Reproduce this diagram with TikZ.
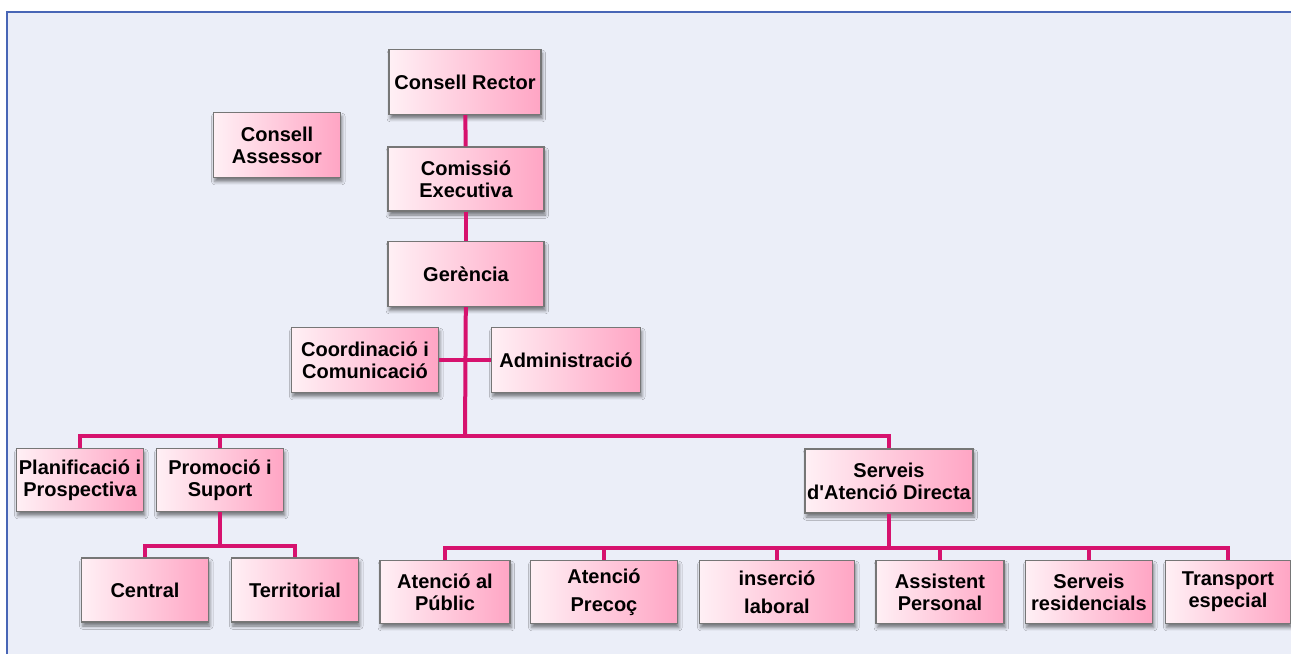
\documentclass[tikz,border=0pt]{standalone}
\usepackage{fontspec}
\setmainfont{Liberation Sans}
\usetikzlibrary{shadows.blur}
\definecolor{linkpink}{RGB}{214,18,110}
\definecolor{boxlight}{RGB}{255,240,245}
\definecolor{boxdark}{RGB}{255,165,196}
\definecolor{paneblue}{RGB}{235,238,248}
\definecolor{frameblue}{RGB}{72,102,182}
\definecolor{boxedge}{RGB}{118,118,118}
\tikzset{
  orgbox/.style={draw=boxedge, line width=0.9pt, left color=boxlight, right color=boxdark,
    align=center, inner sep=1pt, minimum height=48pt,
    font=\bfseries\fontsize{15}{16.5}\selectfont,
    blur shadow={shadow xshift=1pt, shadow yshift=-3pt, shadow blur radius=2.5pt, shadow opacity=50}},
  link/.style={draw=linkpink, line width=3pt},
}
\begin{document}
\begin{tikzpicture}[x=0.75pt,y=0.75pt,yscale=-1,xscale=1]
\useasboundingbox (0,0) rectangle (1291,654);

%Shape: Rectangle [id:pane]
\fill [white] (0,0) rectangle (1291,654);
\fill [paneblue] (7,12) rectangle (1291,654);
\draw [frameblue, line width=1.5pt] (7,654) -- (7,12) -- (1291,12);

% Text Node
\node [orgbox, minimum width=114pt, minimum height=48.75pt] (rector) at (465,82) {Consell Rector};
% Text Node
\node [orgbox, minimum width=95.25pt, minimum height=48.75pt] (assessor) at (277,145) {Consell\\Assessor};
% Text Node
\node [orgbox, minimum width=117pt] (comissio) at (466,179) {Comissió\\Executiva};
% Text Node
\node [orgbox, minimum width=117pt, minimum height=48.75pt] (gerencia) at (466,274) {Gerència};
% Text Node
\node [orgbox, minimum width=110.25pt, minimum height=48.75pt] (coord) at (365,360) {Coordinació i\\Comunicació};
% Text Node
\node [orgbox, minimum width=111.75pt, minimum height=48.75pt] (admin) at (566,360) {Administració};
% Text Node
\node [orgbox, minimum width=95.25pt, minimum height=47.25pt] (planif) at (80,480) {Planificació i\\Prospectiva};
% Text Node
\node [orgbox, minimum width=95.25pt, minimum height=47.25pt] (promocio) at (220,480) {Promoció i\\Suport};
% Text Node
\node [orgbox, minimum width=126pt] (serveis) at (889,481) {Serveis\\d\textquotesingle Atenció Directa};
% Text Node
\node [orgbox, minimum width=95.25pt] (central) at (145,590) {Central};
% Text Node
\node [orgbox, minimum width=95.25pt] (territorial) at (295,590) {Territorial};
% Text Node
\node [orgbox, minimum width=97.5pt, minimum height=47.25pt] (public) at (445,592) {Atenció al\\Públic};
% Text Node
\node [orgbox, minimum width=110.25pt, minimum height=47.25pt] (precoc) at (604,592) {Atenció\\[4.5pt]Precoç};
% Text Node
\node [orgbox, minimum width=116.25pt, minimum height=47.25pt] (insercio) at (777,592) {inserció\\[4.5pt]laboral};
% Text Node
\node [orgbox, minimum width=96pt, minimum height=47.25pt] (assistent) at (940,592) {Assistent\\Personal};
% Text Node
\node [orgbox, minimum width=95.25pt, minimum height=47.25pt] (residencials) at (1089,592) {Serveis\\residencials};
% Text Node
\node [orgbox, minimum width=93.75pt, minimum height=47.25pt] (transport) at (1228,592) {Transport\\especial};

%Straight Lines [id:trunk]
\coordinate (busmain) at (465,436);
\coordinate (buspromo) at (220,546);
\coordinate (busserv) at (889,548);
\draw [link] (rector) -- (comissio);
\draw [link] (comissio) -- (gerencia);
\draw [link] (gerencia) -- (busmain);
\draw [link] (coord) -- (admin);
%Straight Lines [id:level2]
\draw [link] (planif.north) |- (busmain) -| (serveis.north);
\draw [link] (promocio.north) -- (promocio.north |- busmain);
%Straight Lines [id:promo]
\draw [link] (promocio) -- (buspromo);
\draw [link] (central.north) |- (buspromo) -| (territorial.north);
%Straight Lines [id:serv]
\draw [link] (serveis) -- (busserv);
\draw [link] (public.north) |- (busserv) -| (transport.north);
\foreach \n in {precoc,insercio,assistent,residencials}
  \draw [link] (\n.north) -- (\n.north |- busserv);

\end{tikzpicture}
\end{document}
